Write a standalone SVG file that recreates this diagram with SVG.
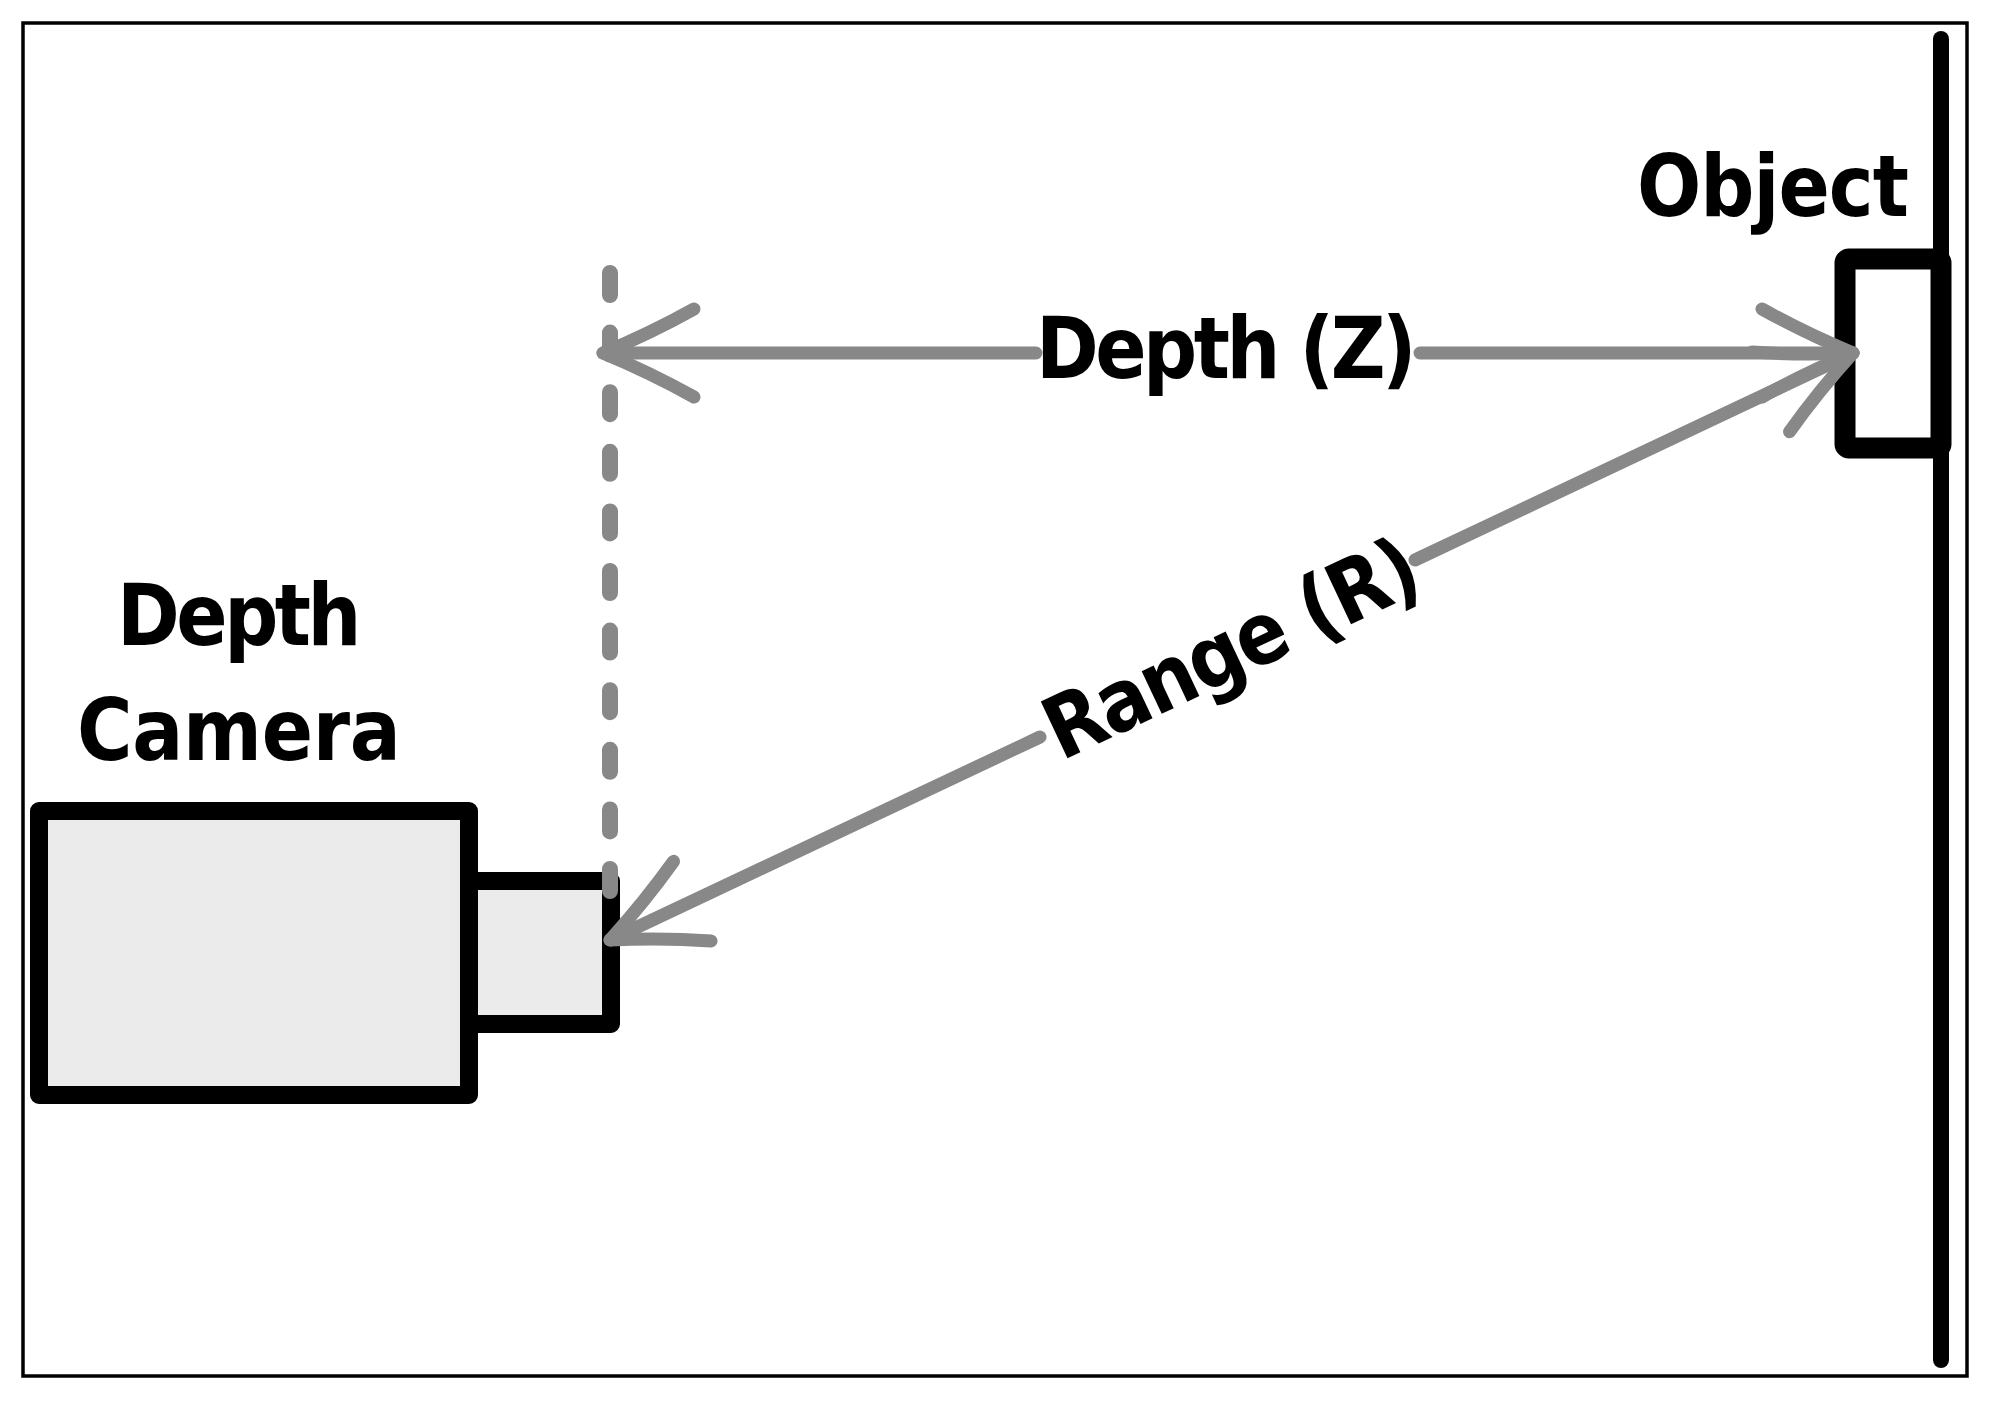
<svg xmlns="http://www.w3.org/2000/svg" width="2016" height="1416" viewBox="0 0 2016 1416">
  <style>
    .lbl { font-family: "DejaVu Sans", "Liberation Sans", sans-serif; font-weight: bold; font-size: 86px; fill: #000; }
    .blk { stroke: #000; stroke-linejoin: round; }
    .gray { stroke: #888; fill: none; stroke-linecap: round; }
  </style>
  <defs>
    <marker id="arr" markerUnits="userSpaceOnUse" viewBox="-110 -60 120 120" markerWidth="120" markerHeight="120" refX="0" refY="0" orient="auto-start-reverse" overflow="visible">
      <path d="M -91 -44 Q -48 -20 0 0 Q -48 20 -91 44" fill="none" stroke="#888" stroke-width="13" stroke-linecap="round" stroke-linejoin="round"/>
    </marker>
  </defs>
  <rect x="0" y="0" width="2016" height="1416" fill="#fff"/>
  <rect id="frame" x="23" y="23" width="1944" height="1353" fill="none" stroke="#000" stroke-width="3.5"/>

  <g id="object">
    <rect x="1845" y="259" width="96" height="189" rx="4" fill="#fff" class="blk" stroke-width="21"/>
    <line x1="1941" y1="39" x2="1941" y2="1360" class="blk" stroke-width="16" stroke-linecap="round"/>
    <text class="lbl" transform="scale(0.88 1)" x="1860.2" y="216" letter-spacing="-1.1">Object</text>
  </g>

  <g id="camera">
    <rect x="469" y="881" width="142" height="143" fill="#ebebeb" class="blk" stroke-width="18"/>
    <rect x="39" y="811" width="430" height="284" fill="#ebebeb" class="blk" stroke-width="18"/>
    <text class="lbl" transform="scale(0.88 1)" x="133" y="645" letter-spacing="-4">Depth</text>
    <text class="lbl" transform="scale(0.88 1)" x="87.5" y="760" letter-spacing="-0.3">Camera</text>
  </g>

  <g id="connectors">
    <line id="dashed" x1="610" y1="273" x2="610" y2="891" class="gray" stroke-width="16" stroke-dasharray="22 37.6"/>
    <path id="depth-arrow" d="M 603 353 H 1036 M 1420 353 H 1853" class="gray" stroke-width="13" marker-start="url(#arr)" marker-end="url(#arr)"/>
    <path id="range-arrow" d="M 610 940 L 1040 737 M 1415 560 L 1853 353" class="gray" stroke-width="13" marker-start="url(#arr)" marker-end="url(#arr)"/>
  </g>

  <g id="labels">
    <text class="lbl" transform="scale(0.88 1)" x="1177.3" y="378" letter-spacing="-4">Depth (Z)</text>
    <g transform="translate(1228.5 648) rotate(-25.28)">
      <text class="lbl" transform="scale(0.88 1)" x="1.5" y="31" text-anchor="middle" letter-spacing="-2.6">Range (R)</text>
    </g>
  </g>
</svg>
